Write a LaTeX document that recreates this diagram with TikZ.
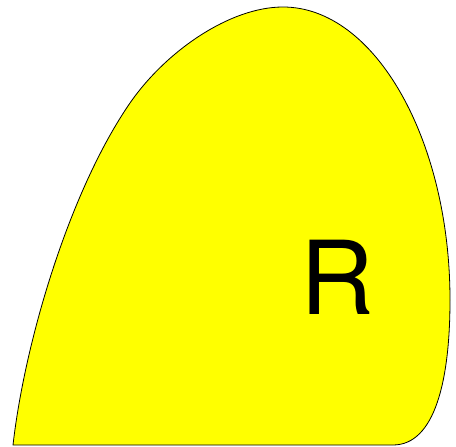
\documentclass[tikz,border=0pt]{standalone}
\usepackage{fontspec}
\setmainfont{TeX Gyre Heros}
\definecolor{blobyellow}{RGB}{255,255,0}
\begin{document}
\begin{tikzpicture}[x=1pt,y=-1pt,
  blob/.style={draw=black,line width=0.8pt,fill=blobyellow,line join=round},
  label/.style={inner sep=0pt,font=\fontsize{102}{102}\selectfont}]
\useasboundingbox (0,0) rectangle (456,447);
\draw[blob] (13,445) -- (393,445)
  .. controls (435,445) and (450,380) .. (450,300)
  .. controls (450,140) and (375,7) .. (283,7)
  .. controls (230,7) and (166,51) .. (130,103)
  .. controls (70,190) and (25,340) .. (13,445) -- cycle;
\node[label] (R) at (337,277) {R};
\end{tikzpicture}
\end{document}
